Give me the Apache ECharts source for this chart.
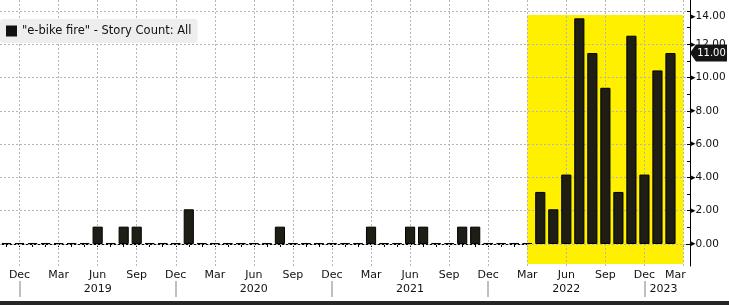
<!DOCTYPE html>
<html><head><meta charset="utf-8">
<script src="https://cdn.jsdelivr.net/npm/echarts@6/dist/echarts.min.js"></script>
<style>html,body{margin:0;padding:0;background:#fff}#c{width:729px;height:305px}</style>
</head><body><div id="c"></div>
<script>
const categories = [
  'Nov 2018','Dec 2018',
  'Jan 2019','Feb 2019','Mar 2019','Apr 2019','May 2019','Jun 2019','Jul 2019','Aug 2019','Sep 2019','Oct 2019','Nov 2019','Dec 2019',
  'Jan 2020','Feb 2020','Mar 2020','Apr 2020','May 2020','Jun 2020','Jul 2020','Aug 2020','Sep 2020','Oct 2020','Nov 2020','Dec 2020',
  'Jan 2021','Feb 2021','Mar 2021','Apr 2021','May 2021','Jun 2021','Jul 2021','Aug 2021','Sep 2021','Oct 2021','Nov 2021','Dec 2021',
  'Jan 2022','Feb 2022','Mar 2022','Apr 2022','May 2022','Jun 2022','Jul 2022','Aug 2022','Sep 2022','Oct 2022','Nov 2022','Dec 2022',
  'Jan 2023','Feb 2023','Mar 2023'
];
const storyCount = [
  0,0,
  0,0,0,0,0,1,0,1,1,0,0,0,
  2,0,0,0,0,0,0,1,0,0,0,0,
  0,0,1,0,0,1,1,0,0,1,1,0,
  0,0,0,3,2,4,13,11,9,3,12,4,
  10,11,null
];
const seriesName = '"e-bike fire" - Story Count: All';
const quarterMonths = ['Mar','Jun','Sep','Dec'];
const yearLabelAt = ['Jun 2019','Jun 2020','Jun 2021','Jun 2022','Jan 2023'];
const highlightFrom = 'Mar 2022';
const highlightTo = 'Mar 2023';
const yTickMin = 0, yTickMax = 14, yTickStep = 2;

const FONT = 'DejaVu Sans';
const monthOf = c => c.split(' ')[0];
const yearOf = c => c.split(' ')[1];
const quarterCats = categories.filter(c => quarterMonths.indexOf(monthOf(c)) >= 0);
let lastIdx = storyCount.length - 1;
while (storyCount[lastIdx] == null) lastIdx--;

const xCatData = categories.map((c, i) => {
  if (i === categories.length - 1) return { value: c, textStyle: { padding: [0, 16, 0, 0] } };
  return c;
});
const yearCatData = categories.map(c => {
  if (c === 'Jan 2023') return { value: c, textStyle: { padding: [0, 0, 0, 12] } };
  return c;
});

const chart = echarts.init(document.getElementById('c'), null, { renderer: 'canvas' });
chart.setOption({
  animation: false,
  backgroundColor: '#fff',
  textStyle: { fontFamily: FONT },
  legend: {
    left: 0, top: 19,
    padding: [6, 6, 6, 6],
    backgroundColor: '#eeeeee',
    borderRadius: 3,
    itemWidth: 11, itemHeight: 11,
    icon: 'rect',
    itemStyle: { color: '#111', borderWidth: 0 },
    textStyle: { fontFamily: FONT, fontSize: 11.5, color: '#111' },
    data: [seriesName]
  },
  grid: [
    { left: 0, right: 39, top: 0, bottom: 39 },
    { left: 0, right: 39, top: 1, bottom: 61 }
  ],
  xAxis: [
    {
      gridIndex: 0, type: 'category', data: xCatData, boundaryGap: true,
      axisLine: { show: true, lineStyle: { color: '#000', width: 1 } },
      axisTick: { show: true, interval: 0, alignWithLabel: true, length: 3, lineStyle: { color: '#000' } },
      axisLabel: {
        interval: (i, v) => quarterMonths.indexOf(monthOf(v)) >= 0,
        formatter: v => monthOf(v),
        margin: 4, fontFamily: FONT, fontSize: 11, color: '#111'
      },
      splitLine: { show: false }
    },
    {
      gridIndex: 0, type: 'category', data: yearCatData, boundaryGap: true,
      position: 'bottom', offset: 15,
      axisLine: { show: false },
      axisTick: { show: true, alignWithLabel: true, length: 16,
        interval: (i, v) => monthOf(v) === 'Dec',
        lineStyle: { color: '#aaaaaa', width: 1.5 } },
      axisLabel: {
        interval: (i, v) => yearLabelAt.indexOf(v) >= 0,
        formatter: v => yearOf(v),
        margin: 3, fontFamily: FONT, fontSize: 11, color: '#111'
      },
      splitLine: { show: false }
    },
    {
      gridIndex: 1, type: 'category', data: categories, show: false
    }
  ],
  yAxis: [
    {
      gridIndex: 0, type: 'value', position: 'right',
      min: -1.2675, max: 14.0576,
      axisLine: { show: true, lineStyle: { color: '#000', width: 1 } },
      axisTick: { show: false }, axisLabel: { show: false }, splitLine: { show: false }
    },
    {
      gridIndex: 1, type: 'value', position: 'right', z: 1.5,
      min: yTickMin, max: yTickMax, interval: yTickStep,
      axisLine: { show: false },
      axisTick: { show: true, inside: true, length: 3, lineStyle: { color: '#000' } },
      minorTick: { show: true, splitNumber: 2, length: 3, lineStyle: { color: '#000' } },
      splitLine: { show: true, lineStyle: { color: '#b5b5b5', type: [2, 2], width: 1 } },
      axisLabel: {
        margin: 1,
        formatter: v => (v === yTickMax ? '\n' : '') + '{a|▸}' + v.toFixed(2),
        fontFamily: FONT, fontSize: 10.5, color: '#111',
        rich: { a: { fontSize: 9, color: '#000', fontFamily: FONT } }
      }
    }
  ],
  series: [
    {
      name: seriesName,
      type: 'bar',
      xAxisIndex: 0, yAxisIndex: 0,
      data: storyCount,
      barCategoryGap: '22%',
      barMinHeight: 1,
      clip: false,
      itemStyle: { color: '#1f1e15', borderColor: '#000', borderWidth: 1, borderRadius: 0 },
      markArea: {
        silent: true,
        itemStyle: { color: '#fff000' },
        data: [[{ xAxis: highlightFrom, yAxis: -1.15 }, { xAxis: highlightTo, yAxis: 13.2 }]]
      },
      markLine: {
        silent: true, z: 1.6,
        symbol: ['none', 'none'],
        label: { show: false },
        lineStyle: { color: '#b5b5b5', type: [2, 2], width: 1 },
        data: quarterCats.map(c => ({ xAxis: c }))
      },
      markPoint: {
        silent: true,
        symbol: 'path://M0,8.5 L6,0 L37,0 L37,17 L6,17 Z',
        symbolSize: [37, 17],
        symbolKeepAspect: false,
        symbolOffset: [38, 0],
        itemStyle: { color: '#151515' },
        label: { show: true, position: 'inside', offset: [3, 0], color: '#fff',
          fontFamily: FONT, fontSize: 10, formatter: p => Number(p.value).toFixed(2) },
        data: [{ coord: [categories[lastIdx], storyCount[lastIdx]], value: storyCount[lastIdx] }]
      }
    }
  ],
  graphic: [
    { type: 'rect', left: 0, bottom: 0, z: 10, shape: { width: 729, height: 4 }, style: { fill: '#262626' } }
  ]
});
</script>
</body></html>
